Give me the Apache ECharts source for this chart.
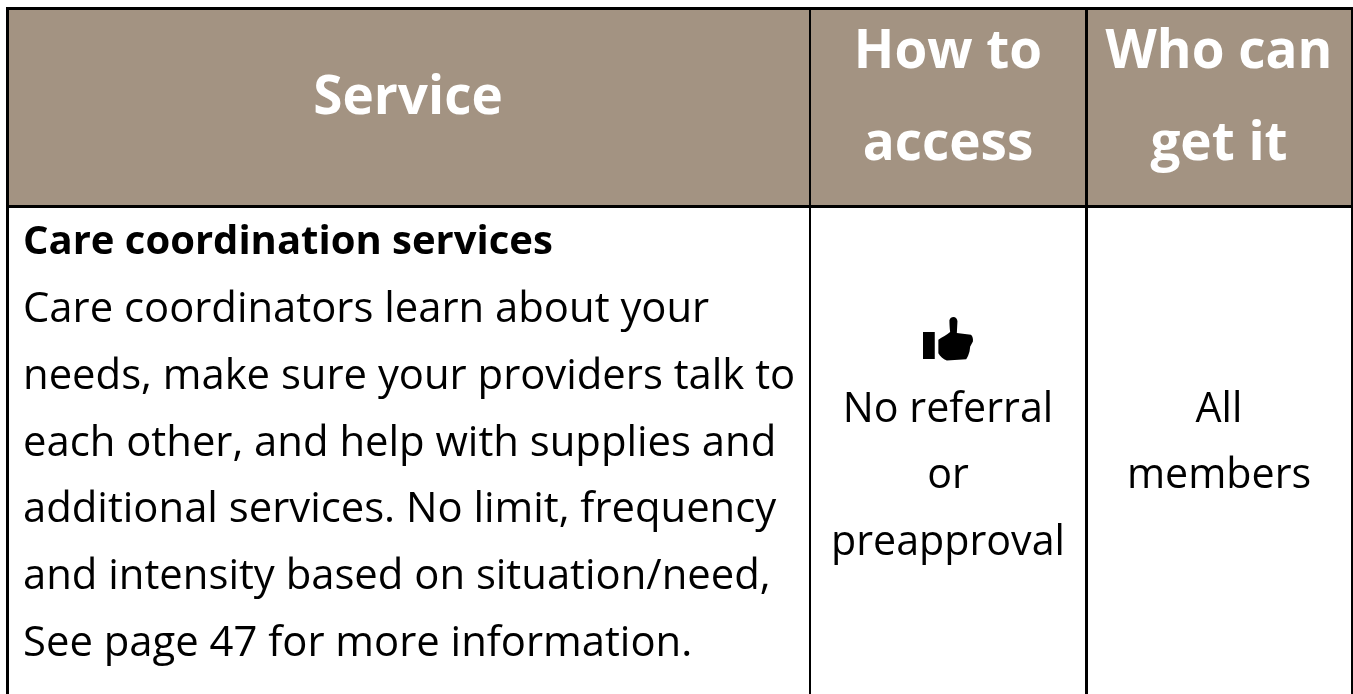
<!DOCTYPE html>
<html>
<head>
<meta charset="utf-8">
<style>
  html, body { margin: 0; padding: 0; background: #fff; }
  #main { width: 1353px; height: 694px; }
</style>
<script src="https://cdn.jsdelivr.net/npm/echarts@6/dist/echarts.min.js"></script>
</head>
<body>
<div id="main"></div>
<script>
// table content
const headerService = ['Service']
const headerAccess = ['How to', 'access']
const headerWho = ['Who can', 'get it']
const bodyTitle = ['Care coordination services']
const bodyLines = [
  'Care coordinators learn about your',
  'needs, make sure your providers talk to',
  'each other, and help with supplies and',
  'additional services. No limit, frequency',
  'and intensity based on situation/need,',
  'See page 47 for more information.'
]
const accessLines = ['No referral', 'or', 'preapproval']
const whoLines = ['All', 'members']

// layout, in page pixels (the hidden axes run 0..1353 and 0..694)
const W = 1353
const H = 694
const colX = [7.5, 810, 1086.5, 1352]
const rowY = [8.5, 206.5, 694]
const headBg = '#a39382'
const fontFamily = '"Open Sans", sans-serif'
const thumbPath = 'M0 15H11.7V41.7H0ZM15.300 22.700C19 20 24 18 27 15C26.500 10 26.300 6 26.300 3.300C27 1 28.500 0 30.300 0C32.500 0 34.300 2 34.300 4.300L33.700 16L47.700 17.700C49.500 19 50 22 49.700 24.300L47 29.300L46.300 34.300C45.500 37 44.500 40 43 42L23.700 43.300C20 42 17 39 15.300 36Z'

// one row per text line: text, x, y, anchor, size, weight, colour
const textRows = []
function addLines(lines, x, ys, align, size, weight, color) {
  lines.forEach((t, i) => textRows.push({ value: [x, ys[i]], t, align, size, weight, color }))
}
addLines(headerService, 408, [99], 'center', 53, 'bold', '#fff')
addLines(headerAccess, 948, [53, 145], 'center', 53, 'bold', '#fff')
addLines(headerWho, 1219, [53, 145], 'center', 53, 'bold', '#fff')
addLines(bodyTitle, 23, [243], 'left', 40, 'bold', '#000')
addLines(bodyLines, 23, [310, 377, 444, 510, 577, 644], 'left', 41.8, 'normal', '#000')
addLines(accessLines, 948, [410, 476, 543], 'center', 41.2, 'normal', '#000')
addLines(whoLines, 1219, [410, 476], 'center', 41.2, 'normal', '#000')

const chart = echarts.init(document.getElementById('main'), null, { renderer: 'canvas' })

const option = {
  animation: false,
  backgroundColor: '#fff',
  grid: { left: 0, right: 0, top: 0, bottom: 0 },
  xAxis: { type: 'value', min: 0, max: W, show: false },
  yAxis: { type: 'value', min: 0, max: H, inverse: true, show: false },
  series: [
    {
      // header fill
      type: 'custom',
      silent: true,
      z: 1,
      data: [[colX[0], rowY[0], colX[3], rowY[1]]],
      renderItem(params, api) {
        const a = api.coord([api.value(0), api.value(1)])
        const b = api.coord([api.value(2), api.value(3)])
        return { type: 'rect', shape: { x: a[0], y: a[1], width: b[0] - a[0], height: b[1] - a[1] }, style: { fill: headBg } }
      }
    },
    {
      // grid lines, last value is the line width
      type: 'custom',
      silent: true,
      z: 2,
      data: [
        [colX[0], rowY[0], colX[0], rowY[2], 3],
        [colX[1], rowY[0], colX[1], rowY[2], 2],
        [colX[2], rowY[0], colX[2], rowY[2], 3],
        [colX[3], rowY[0], colX[3], rowY[2], 2],
        [colX[0] - 1.5, rowY[0], colX[3] + 1, rowY[0], 3],
        [colX[0] - 1.5, rowY[1], colX[3] + 1, rowY[1], 3]
      ],
      renderItem(params, api) {
        const a = api.coord([api.value(0), api.value(1)])
        const b = api.coord([api.value(2), api.value(3)])
        return {
          type: 'line',
          shape: { x1: a[0], y1: a[1], x2: b[0], y2: b[1] },
          style: { stroke: '#000', lineWidth: api.value(4) }
        }
      }
    },
    {
      // thumbs up icon
      type: 'custom',
      silent: true,
      z: 3,
      data: [[923, 317, 973, 360.500]],
      renderItem(params, api) {
        const a = api.coord([api.value(0), api.value(1)])
        const b = api.coord([api.value(2), api.value(3)])
        return {
          type: 'path',
          shape: { pathData: thumbPath, x: a[0], y: a[1], width: b[0] - a[0], height: b[1] - a[1] },
          style: { fill: '#000' }
        }
      }
    },
    {
      // all the text lines
      type: 'custom',
      silent: true,
      z: 4,
      data: textRows,
      renderItem(params, api) {
        const row = textRows[params.dataIndex]
        const p = api.coord([api.value(0), api.value(1)])
        return {
          type: 'text',
          x: p[0],
          y: p[1],
          style: {
            text: row.t,
            fill: row.color,
            align: row.align,
            verticalAlign: 'middle',
            fontFamily: fontFamily,
            fontSize: row.size,
            fontWeight: row.weight
          }
        }
      }
    }
  ]
}

chart.setOption(option)
</script>
</body>
</html>
